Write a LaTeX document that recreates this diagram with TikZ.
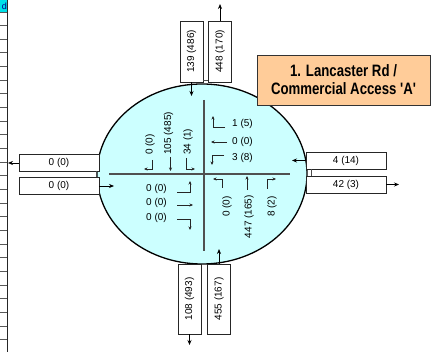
\documentclass[tikz,border=0pt]{standalone}
\usepackage{fontspec}
\setmainfont{Liberation Sans}
\newfontfamily\titlefont[FakeStretch=0.80]{Liberation Sans}
\usetikzlibrary{arrows.meta,shapes.geometric}
\definecolor{poolcyan}{HTML}{CCFFFF}
\definecolor{labelorange}{HTML}{FFCC99}
\definecolor{cellcyan}{HTML}{00E0E8}
\definecolor{crossgray}{HTML}{505050}

\begin{document}
\begin{tikzpicture}[x=1pt,y=-1pt,
  numfont/.style={font=\fontsize{10}{12}\selectfont},
  hbox/.style={draw=black!85, line width=0.8pt, fill=white, inner sep=0pt,
    minimum width=80pt, minimum height=17pt, numfont},
  vbox/.style={draw=black!85, line width=0.8pt, fill=white, inner sep=0pt,
    rotate=90, minimum height=23pt, numfont},
  flow/.style={line width=0.7pt, -{Stealth[length=5pt,width=4pt]}},
  turn/.style={line width=0.8pt, black!85, -{Stealth[length=3.5pt,width=3pt]}},
  vol/.style={inner sep=0pt, numfont},
  rvol/.style={inner sep=0pt, numfont, rotate=90},
  stub/.style={line width=0.8pt, black!70},
  gridline/.style={line width=0.9pt, black!65}
]
\useasboundingbox (0,0) rectangle (433,352);

% spreadsheet column at the left edge
\fill[cellcyan] (0,0) rectangle (7.5,12);
\begin{scope}
  \clip (0,0) rectangle (7.5,12);
  \node[anchor=east, inner sep=0pt, text=blue!55!black, font=\fontsize{9}{10}\selectfont] (cellText) at (7,6.5) {d};
\end{scope}
\foreach \k in {0,...,24} {
  \draw[gridline] (0,{12+13.65*\k}) -- (7.5,{12+13.65*\k});
}
\draw[line width=1.3pt, black!85] (7.5,0) -- (7.5,352);

% intersection pool
\node[ellipse, draw=black, line width=1.3pt, fill=poolcyan,
  minimum width=210pt, minimum height=180pt, inner sep=0pt] (pool) at (202,174) {};

% centre lines
\coordinate (cN) at (204,100);
\coordinate (cS) at (204,251);
\coordinate (cW) at (109,174);
\coordinate (cE) at (290,174);
\draw[crossgray, line width=1.2pt] (cN) -- (cS);
\draw[crossgray, line width=1.2pt] (cW) -- (cE);

% approach boxes: north
\node[vbox, minimum width=61pt] (nIn)  at (191.5,51.5) {139 (486)};
\node[vbox, minimum width=61pt] (nOut) at (220,51.5) {448 (170)};
\draw[stub] (203,80) -- (208,80);
\coordinate (nInEnd)  at (191.5,96);
\coordinate (nOutEnd) at (220,4);
\draw[flow] (nIn.west) -- (nInEnd);
\draw[flow] (nOut.east) -- (nOutEnd);

% approach boxes: south
\node[vbox, minimum width=70pt] (sOut) at (189.5,299) {108 (493)};
\node[vbox, minimum width=70pt] (sIn)  at (219,299) {455 (167)};
\coordinate (sOutEnd) at (189.5,345);
\coordinate (sInEnd)  at (219,249);
\draw[flow] (sOut.west) -- (sOutEnd);
\draw[flow] (sIn.east) -- (sInEnd);

% approach boxes: west
\node[hbox] (wOut) at (59,163) {0 (0)};
\node[hbox] (wIn)  at (59,186) {0 (0)};
\draw[stub] (96,171.5) -- (96,177.5);
\coordinate (wOutEnd) at (8,163);
\coordinate (wInEnd)  at (114,186);
\draw[flow] (wOut.west) -- (wOutEnd);
\draw[flow] (wIn.east) -- (wInEnd);

% approach boxes: east
\node[hbox] (eIn)  at (346,160.5) {4 (14)};
\node[hbox] (eOut) at (346,184.5) {42 (3)};
\draw[stub] (311,169) -- (311,176);
\coordinate (eInEnd)  at (292,160.5);
\coordinate (eOutEnd) at (399,184.5);
\draw[flow] (eIn.west) -- (eInEnd);
\draw[flow] (eOut.east) -- (eOutEnd);

% intersection name
\node[draw=black!80, line width=0.9pt, fill=labelorange, minimum width=173pt,
  minimum height=50pt, inner sep=0pt, align=center,
  font=\titlefont\bfseries\fontsize{16.5}{18}\selectfont] (title) at (343.5,80)
  {1. Lancaster Rd /\\Commercial Access 'A'};

% southbound movements
\node[rvol, anchor=west] (sbR) at (150,155) {0 (0)};
\node[rvol, anchor=west] (sbT) at (168.5,155) {105 (485)};
\node[rvol, anchor=west] (sbL) at (188,155) {34 (1)};
\draw[turn] (152,160) -- (152,169) -- (144,169);
\draw[turn] (170.5,157) -- (170.5,171);
\draw[turn] (186,158) -- (186,169) -- (195,169);

% westbound movements
\node[vol, anchor=west] (wbR) at (232,124) {1 (5)};
\node[vol, anchor=west] (wbT) at (232,142) {0 (0)};
\node[vol, anchor=west] (wbL) at (232,158) {3 (8)};
\draw[turn] (225,127.5) -- (213,127.5) -- (213,116);
\draw[turn] (227,142) -- (211,142);
\draw[turn] (224,155) -- (212,155) -- (212,165);

% northbound movements
\node[rvol, anchor=east] (nbL) at (227,196) {0 (0)};
\node[rvol, anchor=east] (nbT) at (249,195) {447 (165)};
\node[rvol, anchor=east] (nbR) at (272,196) {8 (2)};
\draw[turn] (222,188) -- (222,179) -- (213,179);
\draw[turn] (247,190) -- (247,176);
\draw[turn] (267,189) -- (267,179) -- (276,179);

% eastbound movements
\node[vol, anchor=east] (ebL) at (167,189) {0 (0)};
\node[vol, anchor=east] (ebT) at (167,203) {0 (0)};
\node[vol, anchor=east] (ebR) at (167,218) {0 (0)};
\draw[turn] (177,192) -- (190,192) -- (190,181);
\draw[turn] (177,205) -- (193,205);
\draw[turn] (177,219) -- (190,219) -- (190,230);
\end{tikzpicture}
\end{document}
